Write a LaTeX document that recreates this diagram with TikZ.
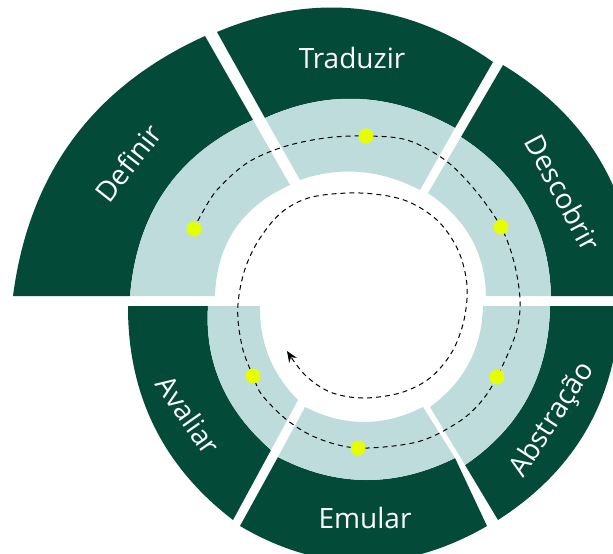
\documentclass[tikz,border=0pt]{standalone}
\usepackage{fontspec}
\setmainfont{Open Sans}
\usetikzlibrary{calc,arrows.meta}
\definecolor{darkgreen}{HTML}{034A38}
\definecolor{lightteal}{HTML}{BEDCDC}
\definecolor{dotyellow}{HTML}{E5FF00}
\begin{document}
\begin{tikzpicture}[x=1pt,y=-1pt,
  arcvia/.style={to path={.. controls ($(#1)!-0.33333!(\tikztotarget)$) and ($(#1)!-0.33333!(\tikztostart)$) .. (\tikztotarget)}},
  darkseg/.style={fill=darkgreen},
  lightseg/.style={fill=lightteal},
  lbl/.style={text=white, font=\fontsize{28}{30}\selectfont, inner sep=0pt},
  dot/.style={circle, fill=dotyellow, minimum size=15pt, inner sep=0pt},
  spiral/.style={draw=black, line width=1pt, dash pattern=on 5pt off 4pt}]
\useasboundingbox (0,0) rectangle (613,554);
\fill[white] (0,0) rectangle (613,554);
\clip (0,0) rectangle (613,554);

% Definir
\fill[darkseg] (13,296) to[arcvia={73,139}] (205,36) -- (253,120) to[arcvia={166,189}] (130,296) -- cycle;
\fill[lightseg] (130,296) to[arcvia={166,189}] (253,120) -- (290,185) to[arcvia={235,229}] (215,296) -- cycle;
% Traduzir
\fill[darkseg] (217,32) to[arcvia={359,9}] (493,62) -- (455,128) to[arcvia={360,99}] (265,118) -- cycle;
\fill[lightseg] (265,118) to[arcvia={360,99}] (455,128) -- (420,190) to[arcvia={360,172}] (300,180) -- cycle;
% Descobrir
\fill[darkseg] (503,65) to[arcvia={601,162}] (637,296) -- (551,296) to[arcvia={527,205}] (461,137) -- cycle;
\fill[lightseg] (461,137) to[arcvia={527,205}] (551,296) -- (486,296) to[arcvia={471,238}] (428,193) -- cycle;
% Abstracao
\fill[darkseg] (620,306) to[arcvia={587,429}] (498,520) -- (465,465) to[arcvia={528,397}] (550,306) -- cycle;
\fill[lightseg] (550,306) to[arcvia={528,397}] (465,465) -- (430,407) to[arcvia={469,363}] (483,306) -- cycle;
% Emular
\fill[darkseg] (487,526) to[arcvia={363,562}] (240,526) -- (278,457) to[arcvia={366,480}] (455,458) -- cycle;
\fill[lightseg] (455,458) to[arcvia={366,480}] (278,457) -- (305,407) to[arcvia={364,422}] (423,407) -- cycle;
% Avaliar
\fill[darkseg] (128,306) to[arcvia={154,426}] (233,520) -- (271,450) to[arcvia={221,384}] (208,306) -- cycle;
\fill[lightseg] (208,306) to[arcvia={221,384}] (271,450) -- (298,400) to[arcvia={269,357}] (260,306) -- cycle;

% spiral
\draw[spiral, -{Stealth[length=11pt,width=9pt]}] plot[smooth, tension=0.55] coordinates {
 (194,229) (201,215) (217,190) (247,163) (283,147) (325,138) (366,136) (407,140) (445,160) (475,190)
 (501,227) (514,262) (520,300) (516,333) (497,377) (480,403) (457,423) (417,442) (358,448) (317,438)
 (287,420) (262,395) (253,376) (243,350) (238,320) (239,295) (246,266) (260,238) (282,212) (312,197)
 (360,193) (404,200) (437,220) (458,250) (467,285) (464,320) (452,352) (430,378) (400,393) (362,398)
 (330,392) (305,375) (287,351)};

% dots
\node[dot] (pDef) at (194,229) {};
\node[dot] (pTra) at (366,136) {};
\node[dot] (pDes) at (501,227) {};
\node[dot] (pAbs) at (497,377) {};
\node[dot] (pEmu) at (358,448) {};
\node[dot] (pAva) at (253,376) {};

% labels
\node[lbl] (tTra) at (352,58) {Traduzir};
\node[lbl] (tEmu) at (365,518) {Emular};
\node[lbl, rotate=52] (tDef) at (128,163) {Definir};
\node[lbl, rotate=-62] (tDes) at (563,193) {Descobrir};
\node[lbl, rotate=-55] (tAva) at (188,415) {Avaliar};
\node[lbl, rotate=57] (tAbs) at (553,420) {Abstração};
\end{tikzpicture}
\end{document}
